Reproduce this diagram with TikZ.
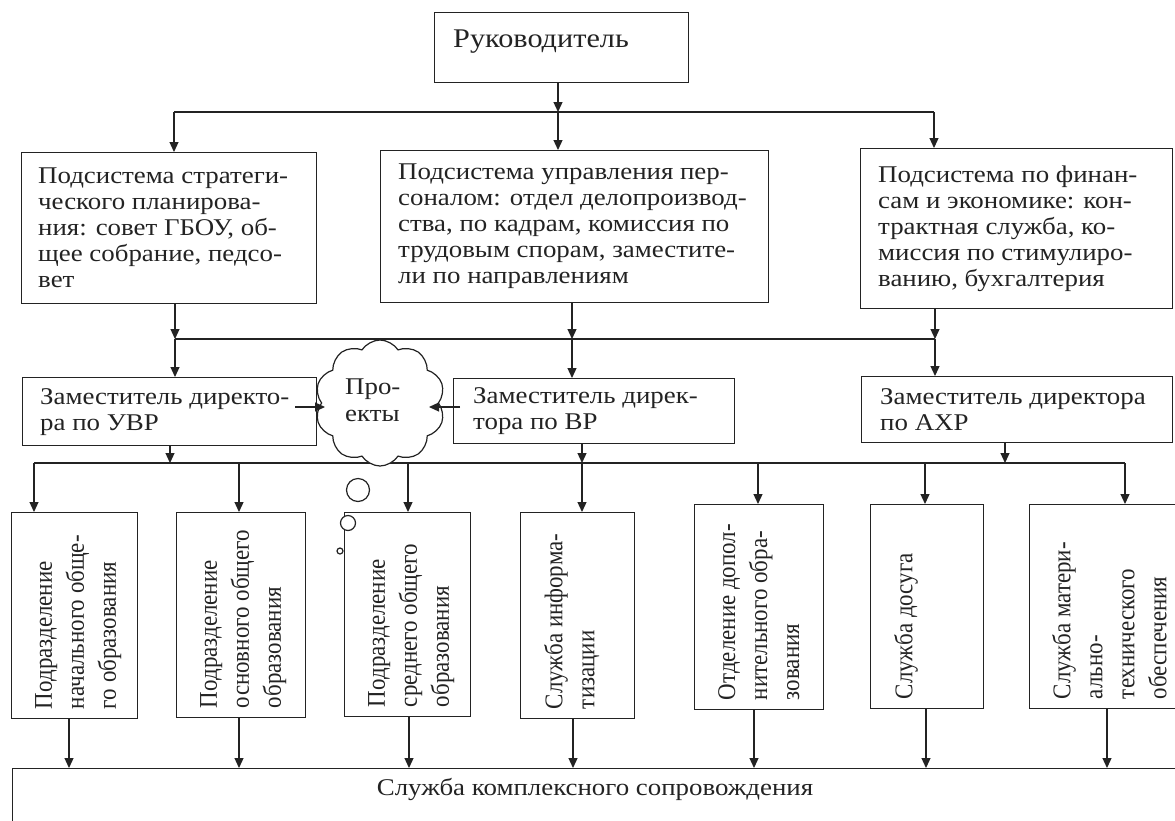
\documentclass[tikz,border=0pt]{standalone}
\usepackage{fontspec}
\setmainfont{Liberation Serif}
\newfontfamily\hf[FakeStretch=1.12]{Liberation Serif}
\newfontfamily\vf[FakeStretch=0.9]{Liberation Serif}
\usetikzlibrary{arrows.meta,shapes.symbols,calc}
\definecolor{ink}{RGB}{35,35,35}
\begin{document}
\begin{tikzpicture}[x=1pt,y=-1pt,
  box/.style={draw=ink, line width=1.2pt, rectangle, inner sep=0pt, anchor=north west, fill=white},
  htxt/.style={font=\hf\fontsize{24}{26}\selectfont, text=ink, align=left, inner sep=0pt, anchor=west},
  vtxt/.style={font=\vf\fontsize{25.5}{32}\selectfont, text=ink, align=left, inner sep=0pt, rotate=90, anchor=north west},
  ln/.style={draw=ink, line width=1.2pt},
  arr/.style={ln, -{Triangle[length=10pt,width=9pt]}},
  bubble/.style={draw=ink, line width=1.2pt, circle, fill=white, inner sep=0pt}
]
\useasboundingbox (0,0) rectangle (1175,820);
\fill[white] (0,0) rectangle (1175,820);
\clip (0,0) rectangle (1175,820);

% ---------- boxes ----------
\node[box, minimum width=254pt, minimum height=70pt]  (ruk) at (434,12) {};
\node[box, minimum width=295pt, minimum height=151pt] (s1) at (21,152) {};
\node[box, minimum width=388pt, minimum height=152pt] (s2) at (380,150) {};
\node[box, minimum width=312pt, minimum height=160pt] (s3) at (860,148) {};
\node[box, minimum width=294pt, minimum height=68pt]  (z1) at (22,377) {};
\node[box, minimum width=281pt, minimum height=65pt]  (z2) at (453,378) {};
\node[box, minimum width=311pt, minimum height=66pt]  (z3) at (861,376) {};
\node[box, minimum width=126pt, minimum height=206pt] (v1) at (11,512) {};
\node[box, minimum width=129pt, minimum height=205pt] (v2) at (176,512) {};
\node[box, minimum width=126pt, minimum height=204pt] (v3) at (344,512) {};
\node[box, minimum width=114pt, minimum height=206pt] (v4) at (520,512) {};
\node[box, minimum width=129pt, minimum height=205pt] (v5) at (694,504) {};
\node[box, minimum width=113pt, minimum height=204pt] (v6) at (870,504) {};
\node[box, minimum width=170pt, minimum height=204pt] (v7) at (1029,504) {};
\node[box, minimum width=1190pt, minimum height=100pt] (bot) at (12,768) {};

% ---------- texts ----------
\node[htxt, anchor=base west, font=\hf\fontsize{27}{30}\selectfont] (tRuk) at (453,47) {Руководитель};
\node[htxt] (ts1) at ([xshift=17pt]s1.west) {Подсистема стратеги-\\ческого планирова-\\ния: совет ГБОУ, об-\\щее собрание, педсо-\\вет};
\node[htxt] (ts2) at ([xshift=18pt]s2.west) {Подсистема управления пер-\\соналом: отдел делопроизвод-\\ства, по кадрам, комиссия по\\трудовым спорам, заместите-\\ли по направлениям};
\node[htxt] (ts3) at ([xshift=18pt]s3.west) {Подсистема по финан-\\сам и экономике: кон-\\трактная служба, ко-\\миссия по стимулиро-\\ванию, бухгалтерия};
\node[htxt] (tz1) at ([xshift=18pt]z1.west) {Заместитель директо-\\ра по УВР};
\node[htxt] (tz2) at ([xshift=20pt]z2.west) {Заместитель дирек-\\тора по ВР};
\node[htxt] (tz3) at ([xshift=19pt]z3.west) {Заместитель директора\\по АХР};
\node[vtxt] (tv1) at ($(v1.south west)+(24,-10)$) {Подразделение\\начального обще-\\го образования};
\node[vtxt] (tv2) at ($(v2.south west)+(24,-10)$) {Подразделение\\основного общего\\образования};
\node[vtxt] (tv3) at ($(v3.south west)+(24,-10)$) {Подразделение\\среднего общего\\образования};
\node[vtxt] (tv4) at ($(v4.south west)+(24,-10)$) {Служба информа-\\тизации};
\node[vtxt] (tv5) at ($(v5.south west)+(24,-10)$) {Отделение допол-\\нительного обра-\\зования};
\node[vtxt] (tv6) at ($(v6.south west)+(24,-10)$) {Служба досуга};
\node[vtxt] (tv7) at ($(v7.south west)+(23,-10)$) {Служба матери-\\ально-\\технического\\обеспечения};
\node[htxt, anchor=base] (tbot) at (595,795) {Служба комплексного сопровождения};

% ---------- bus 1 ----------
\coordinate (a1) at (174,112);
\coordinate (a2) at (558,112);
\coordinate (a3) at (934,112);
\draw[arr] (ruk.south -| a2) -- (a2);
\draw[ln] (a1) -- (a3);
\draw[arr] (a1) -- (a1 |- s1.north);
\draw[arr] (a2) -- (a2 |- s2.north);
\draw[arr] (a3) -- (a3 |- s3.north);

% ---------- bus 2 ----------
\coordinate (b1) at (175,339);
\coordinate (b2) at (572,339);
\coordinate (b3) at (935,339);
\draw[arr] (s1.south -| b1) -- (b1);
\draw[arr] (s2.south -| b2) -- (b2);
\draw[arr] (s3.south -| b3) -- (b3);
\draw[ln] (b1) -- (b3);
\draw[arr] (b1) -- (b1 |- z1.north);
\draw[arr] (b2) -- (b2 |- z2.north);
\draw[arr] (b3) -- (b3 |- z3.north);

% ---------- bus 3 ----------
\coordinate (u1) at (170,463);
\coordinate (u2) at (582,463);
\coordinate (u3) at (1005,463);
\coordinate (d1) at (34,463);
\coordinate (d2) at (239,463);
\coordinate (d3) at (408,463);
\coordinate (d4) at (582,463);
\coordinate (d5) at (758,463);
\coordinate (d6) at (925,463);
\coordinate (d7) at (1125,463);
\draw[ln] (d1) -- (d7);
\draw[arr] (z1.south -| u1) -- (u1);
\draw[arr] (z2.south -| u2) -- (u2);
\draw[arr] (z3.south -| u3) -- (u3);
\foreach \d/\v in {d1/v1,d2/v2,d3/v3,d4/v4,d5/v5,d6/v6,d7/v7}
  \draw[arr] (\d) -- (\d |- \v.north);

% ---------- bottom ----------
\coordinate (e1) at (69,768);
\coordinate (e2) at (239,768);
\coordinate (e3) at (409,768);
\coordinate (e4) at (573,768);
\coordinate (e5) at (754,768);
\coordinate (e6) at (926,768);
\coordinate (e7) at (1107,768);
\foreach \e/\v in {e1/v1,e2/v2,e3/v3,e4/v4,e5/v5,e6/v6,e7/v7}
  \draw[arr] (\v.south -| \e) -- (\e);

% ---------- cloud ----------
\node[cloud, draw=ink, line width=1.2pt, fill=white, cloud puffs=10, cloud puff arc=115,
      minimum width=130pt, minimum height=126pt, inner sep=0pt, aspect=1] (proj) at (380,403) {};
\node[htxt, anchor=north west, font=\hf\fontsize{24}{27}\selectfont] (tproj) at (345,379) {Про-\\екты};
\node[bubble, minimum size=23pt] (o1) at (358,490) {};
\node[bubble, minimum size=15pt] (o2) at (348,523) {};
\node[bubble, minimum size=6pt]  (o3) at (340,551) {};

\coordinate (pA) at (295,407);
\coordinate (pB) at (325,407);
\coordinate (pC) at (460,407);
\coordinate (pD) at (429,407);
\draw[arr] (pA) -- (pB);
\draw[arr] (pC) -- (pD);
\end{tikzpicture}
\end{document}
